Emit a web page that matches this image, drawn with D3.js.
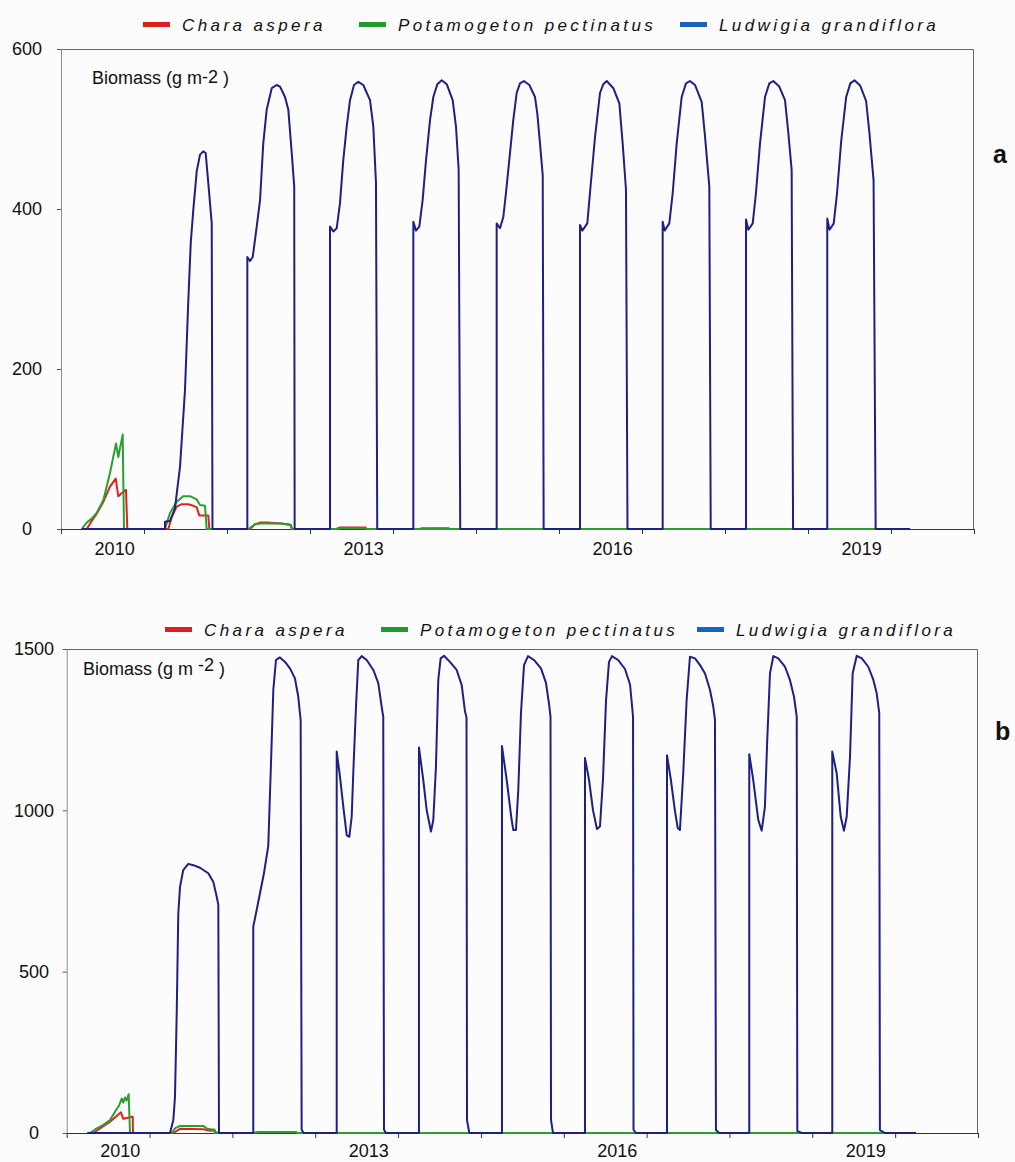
<!DOCTYPE html>
<html>
<head>
<meta charset="utf-8">
<script src="https://cdn.jsdelivr.net/npm/d3@7"></script>
<style>
  body { margin: 0; background: #fcfcfc; }
  svg { display: block; font-family: "Liberation Sans", Arial, sans-serif; }
</style>
</head>
<body>
<div class="canvas"></div>
<script>
// x values are years since 1 Jan 2010, y values are biomass in g m-2
const species = ["Chara aspera", "Potamogeton pectinatus", "Ludwigia grandiflora"];
const yearLabels = ["2010", "2013", "2016", "2019"];
const yTicksA = [0, 200, 400, 600];
const yTicksB = [0, 500, 1000, 1500];

// panel a
const charaA = [
  [0.25, 0], [0.31, 0], [0.37, 10], [0.43, 19], [0.51, 34], [0.59, 53], [0.659, 63], [0.69, 41], [0.735, 45], [0.783, 49], [0.799, 0],
  [1.293, 0], [1.334, 15], [1.394, 28], [1.454, 31], [1.534, 31], [1.594, 29], [1.635, 27], [1.666, 17], [1.775, 17], [1.787, 0],
  [2.277, 0], [2.337, 6], [2.398, 8], [2.482, 8], [2.639, 7], [2.735, 6], [2.771, 5], [2.78, 0],
  [3.322, 0], [3.361, 2], [3.663, 2], [3.687, 0],
  [4.325, 0], [4.349, 1], [4.663, 1], [4.687, 0],
  [10.23, 0]
];
const potamogetonA = [
  [0.249, 0], [0.31, 8], [0.37, 13], [0.43, 20], [0.51, 36], [0.59, 70], [0.663, 107], [0.69, 90], [0.743, 118], [0.759, 0],
  [1.253, 0], [1.313, 20], [1.394, 34], [1.473, 41], [1.554, 41], [1.635, 37], [1.675, 30], [1.735, 29], [1.755, 0],
  [2.257, 0], [2.337, 6], [2.398, 7], [2.659, 7], [2.759, 5], [2.791, 0],
  [3.313, 0], [3.361, 1], [3.663, 1], [3.687, 0],
  [10.23, 0]
];
const ludwigiaA = [
  [0.249, 0], [1.253, 0], [1.253, 9], [1.313, 10], [1.373, 26], [1.434, 78], [1.473, 140], [1.494, 174], [1.534, 286], [1.563, 357],
  [1.594, 399], [1.635, 447], [1.675, 468], [1.714, 472], [1.743, 470], [1.775, 432], [1.816, 382], [1.825, 0],
  [2.245, 0], [2.245, 340], [2.277, 335], [2.31, 340], [2.358, 378], [2.398, 411], [2.437, 482], [2.478, 524], [2.539, 551],
  [2.599, 555], [2.639, 553], [2.699, 540], [2.739, 524], [2.78, 470], [2.81, 428], [2.815, 0],
  [3.241, 0], [3.241, 378], [3.281, 372], [3.322, 376], [3.361, 407], [3.401, 461], [3.442, 503], [3.482, 536], [3.53, 555],
  [3.582, 559], [3.642, 555], [3.723, 536], [3.763, 503], [3.795, 432], [3.81, 0],
  [4.245, 0], [4.245, 384], [4.277, 373], [4.317, 378], [4.357, 411], [4.398, 461], [4.446, 511], [4.486, 540], [4.534, 556],
  [4.587, 561], [4.647, 556], [4.719, 536], [4.759, 503], [4.791, 449], [4.81, 0],
  [5.249, 0], [5.249, 382], [5.289, 376], [5.329, 390], [5.361, 420], [5.401, 461], [5.449, 511], [5.49, 545], [5.53, 557],
  [5.578, 560], [5.643, 555], [5.711, 540], [5.739, 519], [5.771, 482], [5.804, 442], [5.815, 0],
  [6.253, 0], [6.253, 380], [6.281, 373], [6.341, 382], [6.373, 420], [6.434, 490], [6.494, 545], [6.534, 556], [6.575, 560],
  [6.655, 551], [6.727, 532], [6.767, 482], [6.807, 424], [6.825, 0],
  [7.249, 0], [7.249, 384], [7.273, 373], [7.329, 382], [7.37, 420], [7.418, 482], [7.478, 540], [7.53, 557], [7.578, 560],
  [7.639, 555], [7.719, 534], [7.759, 491], [7.811, 428], [7.828, 0],
  [8.253, 0], [8.253, 387], [8.281, 374], [8.334, 382], [8.373, 420], [8.422, 482], [8.482, 540], [8.534, 557], [8.582, 560],
  [8.654, 553], [8.723, 536], [8.763, 495], [8.803, 449], [8.82, 0],
  [9.232, 0], [9.232, 388], [9.26, 374], [9.31, 382], [9.35, 420], [9.4, 485], [9.46, 540], [9.51, 557], [9.56, 561],
  [9.63, 554], [9.7, 535], [9.74, 495], [9.79, 436], [9.815, 0],
  [10.229, 0]
];

// panel b
const charaB = [
  [0.25, 0], [0.321, 0], [0.442, 21], [0.523, 35], [0.603, 53], [0.655, 64], [0.683, 44], [0.764, 49], [0.797, 50], [0.8, 0],
  [1.287, 0], [1.368, 13], [1.649, 12], [1.709, 8], [1.79, 7], [1.811, 0],
  [2.26, 0], [2.32, 2], [2.76, 2], [2.78, 0],
  [10.25, 0]
];
const potamogetonB = [
  [0.25, 0], [0.281, 0], [0.342, 11], [0.442, 25], [0.523, 40], [0.583, 66], [0.635, 87], [0.664, 107], [0.683, 94], [0.704, 110],
  [0.724, 101], [0.748, 120], [0.764, 0],
  [1.267, 0], [1.307, 14], [1.368, 22], [1.649, 22], [1.69, 14], [1.75, 11], [1.784, 11], [1.79, 0],
  [2.249, 0], [2.31, 3], [2.769, 3], [2.79, 0],
  [10.25, 0]
];
const ludwigiaB = [
  [0.25, 0], [1.247, 0], [1.287, 40], [1.307, 112], [1.328, 371], [1.347, 681], [1.368, 763], [1.407, 815], [1.468, 834],
  [1.528, 830], [1.609, 822], [1.709, 805], [1.769, 779], [1.811, 732], [1.83, 707], [1.838, 0],
  [2.252, 0], [2.252, 639], [2.293, 691], [2.333, 743], [2.381, 805], [2.433, 890], [2.462, 1115], [2.494, 1373], [2.526, 1466],
  [2.574, 1474], [2.635, 1460], [2.695, 1440], [2.755, 1409], [2.795, 1352], [2.824, 1280], [2.836, 10], [2.86, 0],
  [3.259, 0], [3.259, 1182], [3.299, 1104], [3.339, 1011], [3.38, 923], [3.411, 918], [3.44, 980], [3.459, 1115], [3.492, 1321],
  [3.52, 1466], [3.561, 1478], [3.621, 1466], [3.701, 1435], [3.761, 1394], [3.802, 1321], [3.821, 1290], [3.83, 10], [3.854, 0],
  [4.252, 0], [4.252, 1195], [4.304, 1094], [4.345, 1001], [4.397, 934], [4.425, 970], [4.457, 1135], [4.485, 1404], [4.514, 1471],
  [4.554, 1479], [4.626, 1460], [4.707, 1435], [4.768, 1388], [4.808, 1306], [4.826, 1288], [4.832, 40], [4.86, 0],
  [5.254, 0], [5.254, 1199], [5.311, 1094], [5.371, 970], [5.391, 939], [5.423, 939], [5.451, 1063], [5.483, 1300], [5.52, 1450],
  [5.568, 1478], [5.64, 1466], [5.725, 1440], [5.785, 1395], [5.822, 1330], [5.84, 1290], [5.846, 40], [5.87, 0],
  [6.256, 0], [6.256, 1162], [6.305, 1094], [6.353, 1000], [6.401, 942], [6.437, 950], [6.474, 1100], [6.51, 1340], [6.546, 1460],
  [6.582, 1478], [6.655, 1466], [6.739, 1438], [6.8, 1390], [6.836, 1290], [6.842, 10], [6.87, 0],
  [7.246, 0], [7.246, 1171], [7.293, 1094], [7.341, 1000], [7.376, 945], [7.402, 939], [7.442, 1115], [7.483, 1342], [7.523, 1476],
  [7.584, 1471], [7.645, 1450], [7.705, 1424], [7.765, 1373], [7.805, 1321], [7.825, 1280], [7.837, 9], [7.877, 0],
  [8.239, 0], [8.239, 1174], [8.287, 1094], [8.348, 970], [8.389, 937], [8.428, 1011], [8.456, 1218], [8.489, 1424], [8.529, 1478],
  [8.589, 1471], [8.67, 1445], [8.73, 1404], [8.779, 1352], [8.812, 1290], [8.819, 6], [8.872, 0],
  [9.241, 0], [9.241, 1182], [9.294, 1115], [9.343, 980], [9.382, 937], [9.415, 980], [9.455, 1166], [9.487, 1424], [9.536, 1479],
  [9.597, 1471], [9.676, 1445], [9.737, 1404], [9.777, 1363], [9.808, 1301], [9.816, 9], [9.877, 0],
  [10.251, 0]
];

const lineColors = ["#e3211c", "#27a02d", "#1e2084"];
const swatchColors = ["#d9201c", "#22992b", "#1763bd"];

const svg = d3
  .select(".canvas")
  .append("svg")
  .attr("width", 1015)
  .attr("height", 1162);

function drawPanel(cfg) {
  const x = d3.scaleLinear().domain([0, 11]).range([cfg.left, cfg.right]);
  const y = d3.scaleLinear().domain([0, cfg.yMax]).range([cfg.bottom, cfg.top]);
  const graph = svg.append("g");

  // top and right edges of the frame
  graph.append("path")
    .attr("d", `M${cfg.left},${cfg.top + 0.5}H${cfg.right - 0.5}V${cfg.bottom}`)
    .attr("fill", "none")
    .attr("stroke", "#666")
    .attr("stroke-width", 1);

  // y axis, labels centred under each other
  const yAxisGroup = graph.append("g").attr("transform", `translate(${cfg.left}, 0)`);
  yAxisGroup.call(d3.axisLeft(y).tickValues(cfg.yTicks).tickSize(4).tickSizeOuter(0).tickFormat(d3.format("d")));
  yAxisGroup.select(".domain").attr("stroke", "#8a8a8a");
  yAxisGroup.selectAll(".tick line").attr("stroke", "#555");
  yAxisGroup.selectAll("text")
    .attr("x", cfg.yLabelX - cfg.left)
    .attr("text-anchor", "middle")
    .attr("font-size", 18)
    .attr("fill", "#111")
    .attr("font-family", "Liberation Sans, Arial, sans-serif");

  // x axis: yearly ticks, labels every third year
  const xAxisGroup = graph.append("g").attr("transform", `translate(0, ${cfg.bottom})`);
  xAxisGroup.call(d3.axisBottom(x).tickValues(d3.range(0, 12)).tickSize(5).tickSizeOuter(0).tickFormat(""));
  xAxisGroup.select(".domain").attr("stroke", "#333");
  xAxisGroup.selectAll(".tick line").attr("stroke", "#333");

  const labelAxis = graph.append("g").attr("transform", `translate(0, ${cfg.bottom})`);
  labelAxis.call(
    d3.axisBottom(x)
      .tickValues(yearLabels.map(l => +l - 2010 + 0.64))
      .tickSize(0)
      .tickPadding(cfg.xLabelPad)
      .tickFormat((d, i) => yearLabels[i])
  );
  labelAxis.select(".domain").remove();
  labelAxis.selectAll("text")
    .attr("font-size", 18)
    .attr("fill", "#111")
    .attr("font-family", "Liberation Sans, Arial, sans-serif");

  // the three species
  const line = d3.line().x(d => x(d[0])).y(d => y(d[1]));
  cfg.series.forEach((s, i) => {
    graph.append("path")
      .datum(s)
      .attr("d", line)
      .attr("fill", "none")
      .attr("stroke", lineColors[i])
      .attr("stroke-width", 2)
      .attr("stroke-linejoin", "round");
  });

  // biomass unit label
  const unit = graph.append("text")
    .attr("x", cfg.unitX)
    .attr("y", cfg.unitY)
    .attr("font-size", 18)
    .attr("fill", "#111");
  unit.append("tspan").text(cfg.unitParts[0]);
  unit.append("tspan").attr("dy", -cfg.supShift).text(cfg.unitParts[1]);
  unit.append("tspan").attr("dy", cfg.supShift).text(cfg.unitParts[2]);

  // legend above the frame
  species.forEach((name, i) => {
    graph.append("line")
      .attr("x1", cfg.legendX[i])
      .attr("x2", cfg.legendX[i] + 27)
      .attr("y1", cfg.legendY - 6)
      .attr("y2", cfg.legendY - 6)
      .attr("stroke", swatchColors[i])
      .attr("stroke-width", 5);
    graph.append("text")
      .attr("x", cfg.legendX[i] + 39)
      .attr("y", cfg.legendY)
      .attr("font-size", 17)
      .attr("font-style", "italic")
      .attr("letter-spacing", "3.4px")
      .attr("fill", "#111")
      .text(name);
  });

  // panel letter
  graph.append("text")
    .attr("x", cfg.letterX)
    .attr("y", cfg.letterY)
    .attr("font-size", 25)
    .attr("font-weight", "bold")
    .attr("fill", "#111")
    .text(cfg.letter);
}

drawPanel({
  left: 61, right: 974, top: 49, bottom: 529, yMax: 600, yTicks: yTicksA, yLabelX: 27,
  xLabelPad: 13, series: [charaA, potamogetonA, ludwigiaA],
  unitX: 92, unitY: 84, unitParts: ["Biomass (g m", "-2", " )"], supShift: 1,
  legendX: [143, 359, 680], legendY: 30.5,
  letter: "a", letterX: 993, letterY: 163
});

drawPanel({
  left: 66.7, right: 978, top: 649, bottom: 1133, yMax: 1500, yTicks: yTicksB, yLabelX: 34,
  xLabelPad: 11, series: [charaB, potamogetonB, ludwigiaB],
  unitX: 83, unitY: 675, unitParts: ["Biomass (g m ", "-2", " )"], supShift: 4,
  legendX: [165, 381, 697], legendY: 635.5,
  letter: "b", letterX: 995, letterY: 740
});
</script>
</body>
</html>
